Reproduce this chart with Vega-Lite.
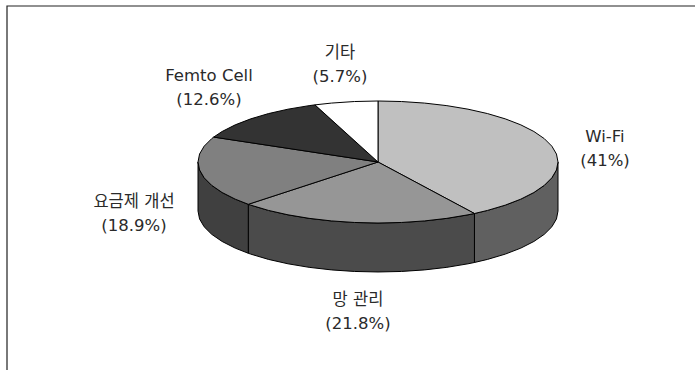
{
  "$schema": "https://vega.github.io/schema/vega-lite/v6.json",
  "width": 695,
  "height": 370,
  "padding": 0,
  "autosize": {"type": "none"},
  "background": "white",
  "view": {"stroke": null},
  "resolve": {"scale": {"fill": "independent"}},
  "datasets": {
    "frame": [
      {"i": 0, "x": -2.0611, "y": -3.4098},
      {"i": 1, "x": -2.0611, "y": 2.5574},
      {"i": 2, "x": 1.7611, "y": 2.5574}
    ],
    "walls": [
      {"slice": "Wi-Fi", "i": 0, "x": 1, "y": 0},
      {"slice": "Wi-Fi", "i": 1, "x": 0.9914, "y": -0.1305},
      {"slice": "Wi-Fi", "i": 2, "x": 0.9659, "y": -0.2588},
      {"slice": "Wi-Fi", "i": 3, "x": 0.9239, "y": -0.3827},
      {"slice": "Wi-Fi", "i": 4, "x": 0.866, "y": -0.5},
      {"slice": "Wi-Fi", "i": 5, "x": 0.7934, "y": -0.6088},
      {"slice": "Wi-Fi", "i": 6, "x": 0.7071, "y": -0.7071},
      {"slice": "Wi-Fi", "i": 7, "x": 0.6088, "y": -0.7934},
      {"slice": "Wi-Fi", "i": 8, "x": 0.5358, "y": -0.8443},
      {"slice": "Wi-Fi", "i": 9, "x": 0.5358, "y": -1.6473},
      {"slice": "Wi-Fi", "i": 10, "x": 0.6088, "y": -1.5964},
      {"slice": "Wi-Fi", "i": 11, "x": 0.7071, "y": -1.5101},
      {"slice": "Wi-Fi", "i": 12, "x": 0.7934, "y": -1.4118},
      {"slice": "Wi-Fi", "i": 13, "x": 0.866, "y": -1.303},
      {"slice": "Wi-Fi", "i": 14, "x": 0.9239, "y": -1.1857},
      {"slice": "Wi-Fi", "i": 15, "x": 0.9659, "y": -1.0618},
      {"slice": "Wi-Fi", "i": 16, "x": 0.9914, "y": -0.9335},
      {"slice": "Wi-Fi", "i": 17, "x": 1, "y": -0.803},
      {"slice": "망 관리", "i": 0, "x": 0.5358, "y": -0.8443},
      {"slice": "망 관리", "i": 1, "x": 0.5, "y": -0.866},
      {"slice": "망 관리", "i": 2, "x": 0.3827, "y": -0.9239},
      {"slice": "망 관리", "i": 3, "x": 0.2588, "y": -0.9659},
      {"slice": "망 관리", "i": 4, "x": 0.1305, "y": -0.9914},
      {"slice": "망 관리", "i": 5, "x": 0, "y": -1},
      {"slice": "망 관리", "i": 6, "x": -0.1305, "y": -0.9914},
      {"slice": "망 관리", "i": 7, "x": -0.2588, "y": -0.9659},
      {"slice": "망 관리", "i": 8, "x": -0.3827, "y": -0.9239},
      {"slice": "망 관리", "i": 9, "x": -0.5, "y": -0.866},
      {"slice": "망 관리", "i": 10, "x": -0.6088, "y": -0.7934},
      {"slice": "망 관리", "i": 11, "x": -0.7071, "y": -0.7071},
      {"slice": "망 관리", "i": 12, "x": -0.7206, "y": -0.6934},
      {"slice": "망 관리", "i": 13, "x": -0.7206, "y": -1.4964},
      {"slice": "망 관리", "i": 14, "x": -0.7071, "y": -1.5101},
      {"slice": "망 관리", "i": 15, "x": -0.6088, "y": -1.5964},
      {"slice": "망 관리", "i": 16, "x": -0.5, "y": -1.669},
      {"slice": "망 관리", "i": 17, "x": -0.3827, "y": -1.7269},
      {"slice": "망 관리", "i": 18, "x": -0.2588, "y": -1.7689},
      {"slice": "망 관리", "i": 19, "x": -0.1305, "y": -1.7944},
      {"slice": "망 관리", "i": 20, "x": 0, "y": -1.803},
      {"slice": "망 관리", "i": 21, "x": 0.1305, "y": -1.7944},
      {"slice": "망 관리", "i": 22, "x": 0.2588, "y": -1.7689},
      {"slice": "망 관리", "i": 23, "x": 0.3827, "y": -1.7269},
      {"slice": "망 관리", "i": 24, "x": 0.5, "y": -1.669},
      {"slice": "망 관리", "i": 25, "x": 0.5358, "y": -1.6473},
      {"slice": "요금제 개선", "i": 0, "x": -0.7206, "y": -0.6934},
      {"slice": "요금제 개선", "i": 1, "x": -0.7934, "y": -0.6088},
      {"slice": "요금제 개선", "i": 2, "x": -0.866, "y": -0.5},
      {"slice": "요금제 개선", "i": 3, "x": -0.9239, "y": -0.3827},
      {"slice": "요금제 개선", "i": 4, "x": -0.9659, "y": -0.2588},
      {"slice": "요금제 개선", "i": 5, "x": -0.9914, "y": -0.1305},
      {"slice": "요금제 개선", "i": 6, "x": -1, "y": 0},
      {"slice": "요금제 개선", "i": 7, "x": -1, "y": -0.803},
      {"slice": "요금제 개선", "i": 8, "x": -0.9914, "y": -0.9335},
      {"slice": "요금제 개선", "i": 9, "x": -0.9659, "y": -1.0618},
      {"slice": "요금제 개선", "i": 10, "x": -0.9239, "y": -1.1857},
      {"slice": "요금제 개선", "i": 11, "x": -0.866, "y": -1.303},
      {"slice": "요금제 개선", "i": 12, "x": -0.7934, "y": -1.4118},
      {"slice": "요금제 개선", "i": 13, "x": -0.7206, "y": -1.4964}
    ],
    "faces": [
      {"slice": "Wi-Fi", "i": 0, "x": 0, "y": 0},
      {"slice": "Wi-Fi", "i": 1, "x": 0, "y": 1},
      {"slice": "Wi-Fi", "i": 2, "x": 0.1305, "y": 0.9914},
      {"slice": "Wi-Fi", "i": 3, "x": 0.2588, "y": 0.9659},
      {"slice": "Wi-Fi", "i": 4, "x": 0.3827, "y": 0.9239},
      {"slice": "Wi-Fi", "i": 5, "x": 0.5, "y": 0.866},
      {"slice": "Wi-Fi", "i": 6, "x": 0.6088, "y": 0.7934},
      {"slice": "Wi-Fi", "i": 7, "x": 0.7071, "y": 0.7071},
      {"slice": "Wi-Fi", "i": 8, "x": 0.7934, "y": 0.6088},
      {"slice": "Wi-Fi", "i": 9, "x": 0.866, "y": 0.5},
      {"slice": "Wi-Fi", "i": 10, "x": 0.9239, "y": 0.3827},
      {"slice": "Wi-Fi", "i": 11, "x": 0.9659, "y": 0.2588},
      {"slice": "Wi-Fi", "i": 12, "x": 0.9914, "y": 0.1305},
      {"slice": "Wi-Fi", "i": 13, "x": 1, "y": 0},
      {"slice": "Wi-Fi", "i": 14, "x": 0.9914, "y": -0.1305},
      {"slice": "Wi-Fi", "i": 15, "x": 0.9659, "y": -0.2588},
      {"slice": "Wi-Fi", "i": 16, "x": 0.9239, "y": -0.3827},
      {"slice": "Wi-Fi", "i": 17, "x": 0.866, "y": -0.5},
      {"slice": "Wi-Fi", "i": 18, "x": 0.7934, "y": -0.6088},
      {"slice": "Wi-Fi", "i": 19, "x": 0.7071, "y": -0.7071},
      {"slice": "Wi-Fi", "i": 20, "x": 0.6088, "y": -0.7934},
      {"slice": "Wi-Fi", "i": 21, "x": 0.5358, "y": -0.8443},
      {"slice": "망 관리", "i": 0, "x": 0, "y": 0},
      {"slice": "망 관리", "i": 1, "x": 0.5358, "y": -0.8443},
      {"slice": "망 관리", "i": 2, "x": 0.5, "y": -0.866},
      {"slice": "망 관리", "i": 3, "x": 0.3827, "y": -0.9239},
      {"slice": "망 관리", "i": 4, "x": 0.2588, "y": -0.9659},
      {"slice": "망 관리", "i": 5, "x": 0.1305, "y": -0.9914},
      {"slice": "망 관리", "i": 6, "x": 0, "y": -1},
      {"slice": "망 관리", "i": 7, "x": -0.1305, "y": -0.9914},
      {"slice": "망 관리", "i": 8, "x": -0.2588, "y": -0.9659},
      {"slice": "망 관리", "i": 9, "x": -0.3827, "y": -0.9239},
      {"slice": "망 관리", "i": 10, "x": -0.5, "y": -0.866},
      {"slice": "망 관리", "i": 11, "x": -0.6088, "y": -0.7934},
      {"slice": "망 관리", "i": 12, "x": -0.7071, "y": -0.7071},
      {"slice": "망 관리", "i": 13, "x": -0.7206, "y": -0.6934},
      {"slice": "요금제 개선", "i": 0, "x": 0, "y": 0},
      {"slice": "요금제 개선", "i": 1, "x": -0.7206, "y": -0.6934},
      {"slice": "요금제 개선", "i": 2, "x": -0.7934, "y": -0.6088},
      {"slice": "요금제 개선", "i": 3, "x": -0.866, "y": -0.5},
      {"slice": "요금제 개선", "i": 4, "x": -0.9239, "y": -0.3827},
      {"slice": "요금제 개선", "i": 5, "x": -0.9659, "y": -0.2588},
      {"slice": "요금제 개선", "i": 6, "x": -0.9914, "y": -0.1305},
      {"slice": "요금제 개선", "i": 7, "x": -1, "y": 0},
      {"slice": "요금제 개선", "i": 8, "x": -0.9914, "y": 0.1305},
      {"slice": "요금제 개선", "i": 9, "x": -0.9659, "y": 0.2588},
      {"slice": "요금제 개선", "i": 10, "x": -0.9239, "y": 0.3827},
      {"slice": "요금제 개선", "i": 11, "x": -0.9128, "y": 0.4083},
      {"slice": "Femto Cell", "i": 0, "x": 0, "y": 0},
      {"slice": "Femto Cell", "i": 1, "x": -0.9128, "y": 0.4083},
      {"slice": "Femto Cell", "i": 2, "x": -0.866, "y": 0.5},
      {"slice": "Femto Cell", "i": 3, "x": -0.7934, "y": 0.6088},
      {"slice": "Femto Cell", "i": 4, "x": -0.7071, "y": 0.7071},
      {"slice": "Femto Cell", "i": 5, "x": -0.6088, "y": 0.7934},
      {"slice": "Femto Cell", "i": 6, "x": -0.5, "y": 0.866},
      {"slice": "Femto Cell", "i": 7, "x": -0.3827, "y": 0.9239},
      {"slice": "Femto Cell", "i": 8, "x": -0.3502, "y": 0.9367},
      {"slice": "기타", "i": 0, "x": 0, "y": 0},
      {"slice": "기타", "i": 1, "x": -0.3502, "y": 0.9367},
      {"slice": "기타", "i": 2, "x": -0.2588, "y": 0.9659},
      {"slice": "기타", "i": 3, "x": -0.1305, "y": 0.9914},
      {"slice": "기타", "i": 4, "x": 0, "y": 1}
    ],
    "labels": [
      {"label": "Wi-Fi\n(41%)", "x": 1.2611, "y": 0.4098},
      {"label": "망 관리\n(21.8%)", "x": -0.1111, "y": -2.2623},
      {"label": "요금제 개선\n(18.9%)", "x": -1.3556, "y": -0.6557},
      {"label": "Femto Cell\n(12.6%)", "x": -0.9389, "y": 1.4098},
      {"label": "기타\n(5.7%)", "x": -0.2111, "y": 1.7869}
    ]
  },
  "encoding": {
    "x": {"field": "x", "type": "quantitative", "axis": null, "scale": {"domain": [-2.1, 1.7611], "nice": false, "zero": false}},
    "y": {"field": "y", "type": "quantitative", "axis": null, "scale": {"domain": [-3.4098, 2.6557], "nice": false, "zero": false}}
  },
  "layer": [
    {
      "data": {"name": "frame"},
      "mark": {"type": "line", "stroke": "#222222", "strokeWidth": 1.2},
      "encoding": {"order": {"field": "i", "type": "ordinal"}}
    },
    {
      "data": {"name": "walls"},
      "mark": {"type": "line", "interpolate": "linear-closed", "stroke": "#000000", "strokeWidth": 1},
      "encoding": {
        "detail": {"field": "slice", "type": "nominal"},
        "order": {"field": "i", "type": "quantitative"},
        "fill": {
          "field": "slice", "type": "nominal", "legend": null,
          "scale": {"domain": ["Wi-Fi", "망 관리", "요금제 개선"], "range": ["#606060", "#4b4b4b", "#404040"]}
        }
      }
    },
    {
      "data": {"name": "faces"},
      "mark": {"type": "line", "interpolate": "linear-closed", "stroke": "#000000", "strokeWidth": 1},
      "encoding": {
        "detail": {"field": "slice", "type": "nominal"},
        "order": {"field": "i", "type": "quantitative"},
        "fill": {
          "field": "slice", "type": "nominal", "legend": null,
          "scale": {"domain": ["Wi-Fi", "망 관리", "요금제 개선", "Femto Cell", "기타"], "range": ["#c0c0c0", "#969696", "#808080", "#333333", "#ffffff"]}
        }
      }
    },
    {
      "data": {"name": "labels"},
      "mark": {"type": "text", "align": "center", "baseline": "middle", "lineBreak": "\n", "lineHeight": 24, "font": "DejaVu Sans, Noto Sans CJK KR", "fontSize": 16.5, "fill": "#2a2a2a"},
      "encoding": {"text": {"field": "label", "type": "nominal"}}
    }
  ]
}
